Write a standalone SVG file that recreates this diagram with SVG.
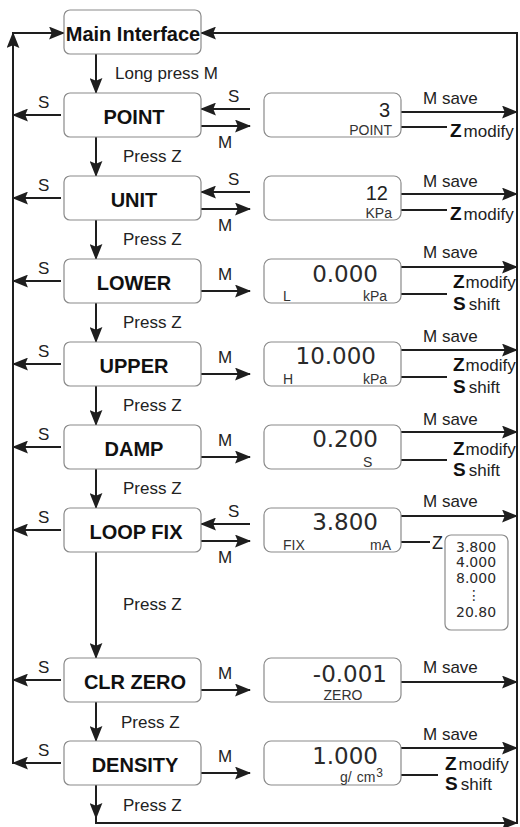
<svg xmlns="http://www.w3.org/2000/svg" width="520" height="827" viewBox="0 0 520 827">
<style>
.box{fill:#fff;stroke:#8a8a8a;stroke-width:1.2}
.ln{stroke:#1e1e1e;stroke-width:2;fill:none}
.arr{marker-end:url(#ah)}
.nl{font-family:"Liberation Sans",Arial,sans-serif;font-weight:bold;font-size:20px;fill:#111;text-anchor:middle}
.lb{font-family:"Liberation Sans",Arial,sans-serif;font-size:17px;fill:#222}
.num{font-family:"DejaVu Sans",sans-serif;font-size:23px;fill:#2a2a2a;text-anchor:end}
.big{font-family:"Liberation Sans",Arial,sans-serif;font-size:20px;fill:#222;text-anchor:end}
.sm{font-family:"Liberation Sans",Arial,sans-serif;font-size:14px;fill:#333}
.end{text-anchor:end}
.kb{font-weight:bold;font-size:19px;fill:#111}
.lst{font-family:"DejaVu Sans",sans-serif;font-size:14px;fill:#2a2a2a}
</style>
<defs>
<marker id="ah" markerUnits="userSpaceOnUse" markerWidth="16" markerHeight="13" viewBox="0 0 15 12" refX="14" refY="6" orient="auto">
<path d="M0,0 L15,6 L0,12 L2.5,6 z" fill="#1e1e1e"/>
</marker>
</defs>

<g id="connectors">
<line class="ln arr" x1="96" y1="54" x2="96" y2="93"/>
<line class="ln arr" x1="96" y1="137" x2="96" y2="176"/>
<line class="ln arr" x1="96" y1="220" x2="96" y2="259"/>
<line class="ln arr" x1="96" y1="303" x2="96" y2="342"/>
<line class="ln arr" x1="96" y1="386" x2="96" y2="425"/>
<line class="ln arr" x1="96" y1="469" x2="96" y2="508"/>
<line class="ln arr" x1="96" y1="552" x2="96" y2="658"/>
<line class="ln arr" x1="96" y1="702" x2="96" y2="741"/>
<line class="ln arr" x1="96" y1="785" x2="96" y2="818"/>
<polyline class="ln arr" points="96,816 96,823 517,823"/>
<line class="ln arr" x1="13" y1="764" x2="13" y2="33"/>
<line class="ln arr" x1="12" y1="33" x2="64" y2="33"/>
<line class="ln" x1="517" y1="32" x2="517" y2="824"/>
<line class="ln arr" x1="518" y1="33" x2="201" y2="33"/>
<line class="ln arr" x1="61" y1="115" x2="13" y2="115"/>
<line class="ln arr" x1="61" y1="198" x2="13" y2="198"/>
<line class="ln arr" x1="61" y1="281" x2="13" y2="281"/>
<line class="ln arr" x1="61" y1="364" x2="13" y2="364"/>
<line class="ln arr" x1="61" y1="447" x2="13" y2="447"/>
<line class="ln arr" x1="61" y1="530" x2="13" y2="530"/>
<line class="ln arr" x1="61" y1="680" x2="13" y2="680"/>
<line class="ln arr" x1="61" y1="763" x2="13" y2="763"/>
<line class="ln arr" x1="250" y1="109" x2="201" y2="109"/>
<line class="ln arr" x1="201" y1="126" x2="250" y2="126"/>
<line class="ln arr" x1="250" y1="192" x2="201" y2="192"/>
<line class="ln arr" x1="201" y1="209" x2="250" y2="209"/>
<line class="ln arr" x1="201" y1="291" x2="250" y2="291"/>
<line class="ln arr" x1="201" y1="374" x2="250" y2="374"/>
<line class="ln arr" x1="201" y1="457" x2="250" y2="457"/>
<line class="ln arr" x1="250" y1="524" x2="201" y2="524"/>
<line class="ln arr" x1="201" y1="541" x2="250" y2="541"/>
<line class="ln arr" x1="201" y1="690" x2="250" y2="690"/>
<line class="ln arr" x1="201" y1="773" x2="250" y2="773"/>
<line class="ln arr" x1="401" y1="112" x2="517" y2="112"/>
<line class="ln arr" x1="401" y1="194" x2="517" y2="194"/>
<line class="ln arr" x1="401" y1="267" x2="517" y2="267"/>
<line class="ln arr" x1="401" y1="350" x2="517" y2="350"/>
<line class="ln arr" x1="401" y1="432" x2="517" y2="432"/>
<line class="ln arr" x1="401" y1="516" x2="517" y2="516"/>
<line class="ln arr" x1="401" y1="682" x2="517" y2="682"/>
<line class="ln arr" x1="401" y1="748" x2="517" y2="748"/>
<line class="ln" x1="401" y1="127" x2="447" y2="127"/>
<line class="ln" x1="401" y1="210" x2="447" y2="210"/>
<line class="ln" x1="401" y1="294" x2="447" y2="294"/>
<line class="ln" x1="401" y1="377" x2="447" y2="377"/>
<line class="ln" x1="401" y1="460" x2="447" y2="460"/>
<line class="ln" x1="401" y1="542" x2="430" y2="542"/>
<line class="ln" x1="401" y1="775" x2="438" y2="775"/>
<text class="lb" x="115" y="79" font-size="18">Long press M</text>
<text class="lb" x="123" y="162">Press Z</text>
<text class="lb" x="123" y="245">Press Z</text>
<text class="lb" x="123" y="328">Press Z</text>
<text class="lb" x="123" y="411">Press Z</text>
<text class="lb" x="123" y="494">Press Z</text>
<text class="lb" x="123" y="610">Press Z</text>
<text class="lb" x="121" y="728">Press Z</text>
<text class="lb" x="123" y="811">Press Z</text>
<g class="lb" font-size="16">
<text x="38" y="108">S</text>
<text x="38" y="191">S</text>
<text x="38" y="274">S</text>
<text x="38" y="357">S</text>
<text x="38" y="440">S</text>
<text x="38" y="523">S</text>
<text x="38" y="673">S</text>
<text x="38" y="756">S</text>
<text x="228" y="102">S</text>
<text x="228" y="185">S</text>
<text x="228" y="517">S</text>
</g>
<g class="lb">
<text x="218" y="148">M</text>
<text x="218" y="231">M</text>
<text x="218" y="280">M</text>
<text x="218" y="363">M</text>
<text x="218" y="446">M</text>
<text x="218" y="563">M</text>
<text x="218" y="679">M</text>
<text x="218" y="762">M</text>
<text x="423" y="104">M save</text>
<text x="423" y="187">M save</text>
<text x="423" y="258">M save</text>
<text x="423" y="342">M save</text>
<text x="423" y="425">M save</text>
<text x="423" y="507">M save</text>
<text x="423" y="673">M save</text>
<text x="423" y="740">M save</text>
</g>
<g class="lb" font-size="16">
<text x="450" y="137"><tspan class="kb">Z</tspan><tspan dx="2">modify</tspan></text>
<text x="450" y="220"><tspan class="kb">Z</tspan><tspan dx="2">modify</tspan></text>
<text x="453" y="288"><tspan class="kb">Z</tspan><tspan dx="1">modify</tspan></text>
<text x="453" y="310"><tspan class="kb">S</tspan><tspan dx="3">shift</tspan></text>
<text x="453" y="371"><tspan class="kb">Z</tspan><tspan dx="1">modify</tspan></text>
<text x="453" y="393"><tspan class="kb">S</tspan><tspan dx="3">shift</tspan></text>
<text x="453" y="455"><tspan class="kb">Z</tspan><tspan dx="1">modify</tspan></text>
<text x="453" y="476"><tspan class="kb">S</tspan><tspan dx="3">shift</tspan></text>
<text x="432" y="549" font-size="18">Z</text>
<text x="445" y="770"><tspan class="kb">Z</tspan><tspan dx="2">modify</tspan></text>
<text x="445" y="790"><tspan class="kb">S</tspan><tspan dx="3">shift</tspan></text>
</g>
</g>

<g id="node-main"><rect class="box" x="64" y="10" width="137" height="44" rx="6"/><text class="nl" x="133" y="41" font-size="19">Main Interface</text></g>
<g id="node-point"><rect class="box" x="64" y="93" width="137" height="44" rx="6"/><text class="nl" x="134" y="124">POINT</text></g>
<g id="node-unit"><rect class="box" x="64" y="176" width="137" height="44" rx="6"/><text class="nl" x="134" y="207">UNIT</text></g>
<g id="node-lower"><rect class="box" x="64" y="259" width="137" height="44" rx="6"/><text class="nl" x="134" y="290">LOWER</text></g>
<g id="node-upper"><rect class="box" x="64" y="342" width="137" height="44" rx="6"/><text class="nl" x="134" y="373">UPPER</text></g>
<g id="node-damp"><rect class="box" x="64" y="425" width="137" height="44" rx="6"/><text class="nl" x="134" y="456">DAMP</text></g>
<g id="node-loopfix"><rect class="box" x="64" y="508" width="137" height="44" rx="6"/><text class="nl" x="136" y="539">LOOP FIX</text></g>
<g id="node-clrzero"><rect class="box" x="64" y="658" width="137" height="44" rx="6"/><text class="nl" x="135" y="689">CLR ZERO</text></g>
<g id="node-density"><rect class="box" x="64" y="741" width="137" height="44" rx="6"/><text class="nl" x="135" y="772">DENSITY</text></g>

<g id="disp-point"><rect class="box" x="264" y="93" width="137" height="44" rx="7"/><text class="big" x="390" y="117">3</text><text class="sm end" x="392" y="135">POINT</text></g>
<g id="disp-unit"><rect class="box" x="264" y="176" width="137" height="44" rx="7"/><text class="big" x="388" y="200">12</text><text class="sm end" x="392" y="218">KPa</text></g>
<g id="disp-lower"><rect class="box" x="264" y="259" width="137" height="44" rx="7"/><text class="num" x="378" y="282">0.000</text><text class="sm" x="283" y="301">L</text><text class="sm end" x="387" y="301">kPa</text></g>
<g id="disp-upper"><rect class="box" x="264" y="342" width="137" height="44" rx="7"/><text class="num" x="376" y="364">10.000</text><text class="sm" x="283" y="384">H</text><text class="sm end" x="387" y="384">kPa</text></g>
<g id="disp-damp"><rect class="box" x="264" y="425" width="137" height="44" rx="7"/><text class="num" x="378" y="447">0.200</text><text class="sm" x="363" y="467">S</text></g>
<g id="disp-loopfix"><rect class="box" x="264" y="508" width="137" height="44" rx="7"/><text class="num" x="378" y="530">3.800</text><text class="sm" x="283" y="550">FIX</text><text class="sm end" x="391" y="550">mA</text></g>
<g id="list-loopfix"><rect class="box" x="445" y="535" width="63" height="95" rx="6"/>
<text class="lst" x="456" y="552">3.800</text><text class="lst" x="456" y="567">4.000</text><text class="lst" x="456" y="583">8.000</text><text class="lst" x="474" y="600" font-size="11" text-anchor="middle">⋮</text><text class="lst" x="456" y="617">20.80</text></g>
<g id="disp-clrzero"><rect class="box" x="264" y="658" width="137" height="44" rx="7"/><text class="num" x="387" y="682">-0.001</text><text class="sm" x="343" y="700" text-anchor="middle">ZERO</text></g>
<g id="disp-density"><rect class="box" x="264" y="741" width="137" height="44" rx="7"/><text class="num" x="378" y="764">1.000</text><text class="sm" x="340" y="782" font-size="15">g/<tspan dx="5">cm</tspan><tspan dx="1" dy="-5" font-size="12">3</tspan></text></g>
</svg>
